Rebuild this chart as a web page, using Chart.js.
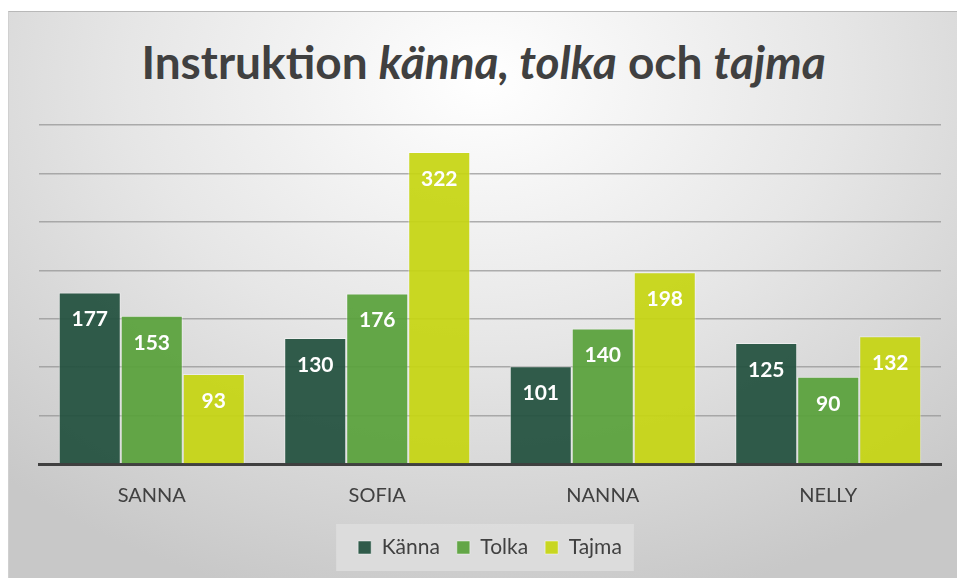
<!DOCTYPE html>
<html>
<head>
<meta charset="utf-8">
<script src="https://cdn.jsdelivr.net/npm/chart.js@4"></script>
<style>
  body { margin: 0; background: #fff; width: 957px; height: 578px; overflow: hidden; }
  #wrap {
    position: absolute; left: 8px; top: 11px; width: 949px; height: 567px;
    border-top: 1px solid #b8b8b8; border-left: 1px solid #d0d0d0;
    background: radial-gradient(ellipse 75% 95% at 50% 12%, #ffffff 0%, #e6e6e6 50%, #c8c8c8 100%);
  }
  #title {
    position: absolute; left: 0; right: 0; top: 22px; margin: 0;
    text-align: center; font-family: Lato, sans-serif; font-weight: bold;
    font-size: 46px; color: #404040;
  }
  canvas { position: absolute; left: 0; top: 0; }
</style>
</head>
<body>
<div id="wrap">
  <h1 id="title">Instruktion <i>känna, tolka</i> och <i>tajma</i></h1>
  <canvas id="chart" width="949" height="567"></canvas>
</div>
<script>
// Chart data
const categories = ['SANNA', 'SOFIA', 'NANNA', 'NELLY'];
const seriesNames = ['Känna', 'Tolka', 'Tajma'];
const kanna = [177, 130, 101, 125];
const tolka = [153, 176, 140, 90];
const tajma = [93, 322, 198, 132];
const seriesColors = ['rgba(33,79,61,0.92)', 'rgba(88,161,57,0.92)', 'rgba(198,213,16,0.92)'];

// white value labels inside the bar tops
const valueLabels = {
    id: 'valueLabels',
    afterDatasetsDraw(chart) {
        const ctx = chart.ctx;
        ctx.save();
        ctx.font = 'bold 21px Lato, sans-serif';
        ctx.fillStyle = '#ffffff';
        ctx.textAlign = 'center';
        ctx.textBaseline = 'middle';
        chart.data.datasets.forEach((ds, di) => {
            chart.getDatasetMeta(di).data.forEach((bar, i) => {
                ctx.fillText(ds.data[i], bar.x, bar.y + 27);
            });
        });
        ctx.restore();
    }
};

// light box behind the legend
const legendBox = {
    id: 'legendBox',
    beforeDraw(chart) {
        const boxes = chart.legend && chart.legend.legendHitBoxes;
        if (!boxes || !boxes.length) return;
        const left = Math.min(...boxes.map(b => b.left)) - 22;
        const right = Math.max(...boxes.map(b => b.left + b.width)) + 12;
        const top = Math.min(...boxes.map(b => b.top)) - 13;
        const bottom = Math.max(...boxes.map(b => b.top + b.height)) + 13;
        const ctx = chart.ctx;
        ctx.save();
        ctx.fillStyle = 'rgba(222,222,222,0.85)';
        ctx.fillRect(left, top, right - left, bottom - top);
        ctx.restore();
    }
};

const ctx = document.getElementById('chart').getContext('2d');
new Chart(ctx, {
    type: 'bar',
    data: {
        labels: categories,
        datasets: [kanna, tolka, tajma].map((d, i) => ({
            label: seriesNames[i],
            data: d,
            backgroundColor: seriesColors[i],
            borderColor: 'rgba(255,255,255,0.45)',
            borderWidth: 1,
            categoryPercentage: 0.825,
            barPercentage: 1
        }))
    },
    options: {
        responsive: false,
        animation: false,
        layout: {padding: {left: 30, right: 17, top: 113, bottom: 11}},
        scales: {
            x: {
                grid: {display: false},
                border: {color: '#404040', width: 3},
                ticks: {color: '#404040', font: {family: 'Lato, sans-serif', size: 20}, padding: 12}
            },
            y: {
                min: 0, max: 350,
                ticks: {display: false, stepSize: 50},
                grid: {color: 'rgba(150,150,150,0.75)', lineWidth: 1.5, drawTicks: false},
                border: {display: false}
            }
        },
        plugins: {
            legend: {
                position: 'bottom',
                labels: {
                    color: '#404040',
                    font: {family: 'Lato, sans-serif', size: 21},
                    boxWidth: 13, boxHeight: 13,
                    padding: 17
                }
            },
            tooltip: {enabled: false}
        }
    },
    plugins: [legendBox, valueLabels]
});
</script>
</body>
</html>
